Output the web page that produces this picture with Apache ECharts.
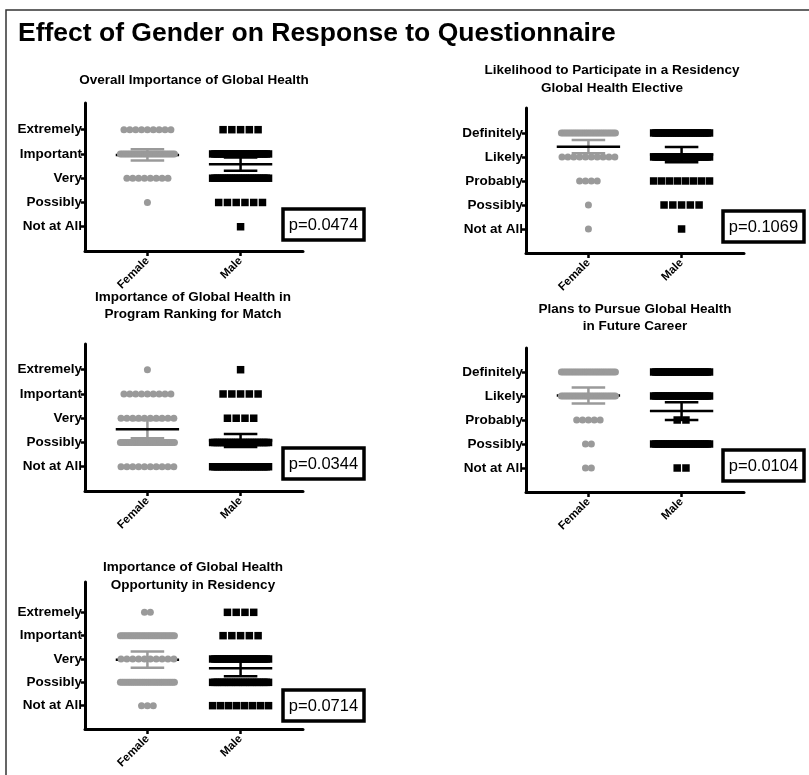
<!DOCTYPE html>
<html>
<head>
<meta charset="utf-8">
<script src="https://cdn.jsdelivr.net/npm/echarts@6/dist/echarts.min.js"></script>
<style>
  html, body { margin: 0; padding: 0; background: #fff; }
  #chart { width: 809px; height: 775px; }
</style>
</head>
<body>
<div id="chart"></div>
<script>
// answer levels, bottom (1) to top (5)
const importanceLevels = ['Not at All', 'Possibly', 'Very', 'Important', 'Extremely']
const likelihoodLevels = ['Not at All', 'Possibly', 'Probably', 'Likely', 'Definitely']
const groups = ['Female', 'Male']

const panelTitles = [
  ['Overall Importance of Global Health'],
  ['Likelihood to Participate in a Residency', 'Global Health Elective'],
  ['Importance of Global Health in', 'Program Ranking for Match'],
  ['Plans to Pursue Global Health', 'in Future Career'],
  ['Importance of Global Health', 'Opportunity in Residency']
]
const pValues = ['p=0.0474', 'p=0.1069', 'p=0.0344', 'p=0.0104', 'p=0.0714']

// number of answers per level (Not at All -> top level)
const overallFemale = [0, 1, 8, 30, 9]
const overallMale = [1, 6, 25, 25, 5]
const electiveFemale = [1, 1, 4, 10, 30]
const electiveMale = [1, 5, 8, 25, 25]
const rankingFemale = [10, 30, 10, 9, 1]
const rankingMale = [25, 25, 4, 5, 1]
const careerFemale = [2, 2, 5, 30, 30]
const careerMale = [2, 25, 2, 25, 25]
const residencyFemale = [3, 30, 10, 30, 2]
const residencyMale = [8, 25, 25, 5, 4]

// mean and error bar half-length
const femaleMeans = [3.96, 4.43, 2.55, 4.02, 2.97]
const femaleErrs = [0.23, 0.28, 0.38, 0.33, 0.35]
const maleMeans = [3.58, 4.10, 2.08, 3.37, 2.60]
const maleErrs = [0.27, 0.32, 0.27, 0.37, 0.34]

const panelData = [
  { levels: importanceLevels, female: overallFemale, male: overallMale },
  { levels: likelihoodLevels, female: electiveFemale, male: electiveMale },
  { levels: importanceLevels, female: rankingFemale, male: rankingMale },
  { levels: likelihoodLevels, female: careerFemale, male: careerMale },
  { levels: importanceLevels, female: residencyFemale, male: residencyMale }
]

// layout (pixels)
const panelLayout = [
  { left: 85, top: 103, height: 148, ymax: 6.1, titleX: 194, titleY: [80], box: [283, 209] },
  { left: 526, top: 108, height: 145, ymax: 6.04, titleX: 612, titleY: [70, 88], box: [723, 211] },
  { left: 85, top: 344, height: 147, ymax: 6.06, titleX: 193, titleY: [297, 314], box: [283, 448] },
  { left: 526, top: 348, height: 144, ymax: 6.0, titleX: 635, titleY: [309, 326], box: [723, 450] },
  { left: 85, top: 582, height: 147, ymax: 6.3, titleX: 193, titleY: [567, 585], box: [283, 690] }
]

const FONT = 'Arial, "Liberation Sans", sans-serif'
const GRAY = '#9a9a9a'

// spread each row of answers sideways around its group, like a dot plot
function spreadRows (counts, gx, spacing, maxSpan) {
  const pts = []
  counts.forEach((n, i) => {
    if (!n) return
    const step = n > 1 ? Math.min(spacing, maxSpan / (n - 1)) : 0
    for (let k = 0; k < n; k++) {
      pts.push([gx + (k - (n - 1) / 2) * step, i + 1])
    }
  })
  return pts
}

const renderErrorBar = (params, api) => {
  const x = api.value(0)
  const m = api.value(1)
  const e = api.value(2)
  const color = api.value(3) === 0 ? GRAY : '#000'
  const l = api.coord([x - 0.34, m])
  const r = api.coord([x + 0.34, m])
  const c = api.coord([x, m])
  const t = api.coord([x, m + e])
  const b = api.coord([x, m - e])
  const half = api.coord([x + 0.18, m])[0] - c[0]
  const seg = (x1, y1, x2, y2, col) => ({
    type: 'line',
    shape: { x1, y1, x2, y2 },
    style: { stroke: col, lineWidth: 2.5 }
  })
  return {
    type: 'group',
    children: [
      seg(t[0], t[1], b[0], b[1], color),
      seg(t[0] - half, t[1], t[0] + half, t[1], color),
      seg(b[0] - half, b[1], b[0] + half, b[1], color),
      seg(l[0], l[1], r[0], r[1], '#000')
    ]
  }
}

const chart = echarts.init(document.getElementById('chart'), null, { renderer: 'canvas' })

const grid = []
const xAxis = []
const yAxis = []
const series = []
const graphic = [
  {
    type: 'rect',
    shape: { x: 6, y: 10, width: 900, height: 900 },
    style: { fill: 'none', stroke: '#333', lineWidth: 1.5 },
    silent: true
  },
  {
    type: 'text',
    style: { text: 'Effect of Gender on Response to Questionnaire', x: 18, y: 34, font: 'bold 26.5px ' + FONT, fill: '#000', textVerticalAlign: 'middle' }
  }
]

panelLayout.forEach((p, i) => {
  const d = panelData[i]
  grid.push({ left: p.left, top: p.top, width: 218, height: p.height })
  xAxis.push({
    gridIndex: i,
    type: 'value',
    min: 0.33,
    max: 2.67,
    splitLine: { show: false },
    axisLine: { lineStyle: { color: '#000', width: 3 } },
    axisTick: { customValues: [1, 2], length: 5, lineStyle: { color: '#000', width: 2.5 } },
    axisLabel: {
      customValues: [1, 2],
      formatter: v => groups[Math.round(v) - 1],
      rotate: 45,
      margin: 8,
      fontSize: 11.5,
      fontWeight: 'bold',
      fontFamily: FONT,
      color: '#000'
    }
  })
  yAxis.push({
    gridIndex: i,
    type: 'value',
    min: 0,
    max: p.ymax,
    splitLine: { show: false },
    axisLine: { show: true, lineStyle: { color: '#000', width: 3 } },
    axisTick: { show: true, customValues: [1, 2, 3, 4, 5], length: 4, lineStyle: { color: '#000', width: 2.5 } },
    axisLabel: {
      customValues: [1, 2, 3, 4, 5],
      formatter: v => d.levels[Math.round(v) - 1],
      margin: 3,
      fontSize: 13.5,
      fontWeight: 'bold',
      fontFamily: FONT,
      color: '#000'
    }
  })

  series.push({
    type: 'custom',
    xAxisIndex: i,
    yAxisIndex: i,
    z: 1,
    renderItem: renderErrorBar,
    data: [
      [1, femaleMeans[i], femaleErrs[i], 0],
      [2, maleMeans[i], maleErrs[i], 1]
    ]
  })
  series.push({
    type: 'scatter',
    xAxisIndex: i,
    yAxisIndex: i,
    z: 2,
    symbol: 'circle',
    symbolSize: 7,
    itemStyle: { color: GRAY, opacity: 1 },
    data: spreadRows(d.female, 1, 0.063, 0.58)
  })
  series.push({
    type: 'scatter',
    xAxisIndex: i,
    yAxisIndex: i,
    z: 2,
    symbol: 'rect',
    symbolSize: 7.5,
    itemStyle: { color: '#000', opacity: 1 },
    data: spreadRows(d.male, 2, 0.094, 0.6)
  })

  // panel title
  panelTitles[i].forEach((line, k) => {
    graphic.push({
      type: 'text',
      style: { text: line, x: p.titleX, y: p.titleY[k], font: 'bold 13.5px ' + FONT, fill: '#000', textAlign: 'center', textVerticalAlign: 'middle' }
    })
  })
  // p-value box
  graphic.push({
    type: 'rect',
    shape: { x: p.box[0], y: p.box[1], width: 81, height: 31 },
    style: { fill: '#fff', stroke: '#000', lineWidth: 3.5 }
  })
  graphic.push({
    type: 'text',
    style: { text: pValues[i], x: p.box[0] + 40.5, y: p.box[1] + 16, font: '16.5px ' + FONT, fill: '#000', textAlign: 'center', textVerticalAlign: 'middle' }
  })
})

chart.setOption({
  animation: false,
  backgroundColor: '#fff',
  grid,
  xAxis,
  yAxis,
  series,
  graphic
})
</script>
</body>
</html>
